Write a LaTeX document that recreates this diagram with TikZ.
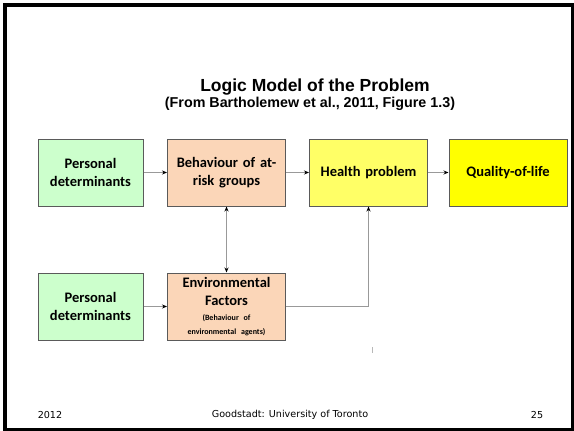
\documentclass[tikz,border=0pt]{standalone}
\usepackage{fontspec}
\setmainfont{Liberation Sans}
\newfontfamily\boxfont{Carlito}
\newfontfamily\footfont{DejaVu Sans}
\usetikzlibrary{arrows.meta}
\definecolor{pgreen}{HTML}{CCFFCC}
\definecolor{ppeach}{HTML}{FBD6B8}
\definecolor{plyellow}{HTML}{FFFF66}
\definecolor{pyellow}{HTML}{FFFF00}
\definecolor{pborder}{HTML}{5A5A5A}
\definecolor{pline}{HTML}{999999}
\newcommand{\subtxt}{\fontsize{8}{9}\selectfont}
\tikzset{
  box/.style={draw=pborder, line width=1pt, minimum height=67pt, align=center,
    font=\boxfont\bfseries\fontsize{14.5}{18.5}\selectfont, inner sep=2pt},
  narrowbox/.style={box, minimum width=105pt, text width=100pt},
  widebox/.style={box, minimum width=117pt, text width=114pt},
  conn/.style={draw=pline, line width=1.5pt, -{Stealth[length=5pt,width=4pt,black]}},
  biconn/.style={draw=pline, line width=1.5pt, {Stealth[length=5pt,width=4pt,black]}-{Stealth[length=5pt,width=4pt,black]}},
  foot/.style={font=\footfont\fontsize{9.6}{11}\selectfont}
}
\begin{document}
\begin{tikzpicture}[x=1pt,y=-1pt]
\useasboundingbox (0,0) rectangle (574,431);
\fill[white] (0,0) rectangle (574,431);
\draw[line width=3.5pt] (5,5) rectangle (572.5,429.5);

\node[font=\bfseries\fontsize{17.5}{20}\selectfont] (title) at (315,87) {Logic Model of the Problem};
\node[font=\bfseries\fontsize{14.3}{16}\selectfont] (subtitle) at (310,104) {(From Bartholemew et al., 2011, Figure 1.3)};

\node[narrowbox, fill=pgreen] (pd1) at (90.5,172.5) {Personal\\determinants};
\node[widebox, fill=ppeach] (beh) at (226.5,172.5) {Behaviour of at-\\risk groups};
\node[widebox, fill=plyellow] (hp) at (368.5,172.5) {Health problem};
\node[widebox, fill=pyellow] (qol) at (508,172.5) {Quality-of-life};

\node[narrowbox, fill=pgreen] (pd2) at (90.5,306.5) {Personal\\determinants};
\node[widebox, fill=ppeach] (env) at (226.5,306.5) {Environmental\\Factors\\[-4pt]{\subtxt(Behaviour of}\\[-4pt]{\subtxt environmental agents)}};

\draw[conn] (pd1) -- (beh);
\draw[conn] (beh) -- (hp);
\draw[conn] (hp) -- (qol);
\draw[biconn] (beh) -- (env);
\draw[conn] (pd2) -- (env);
\draw[conn] (env.east) -| (hp.south);
\draw[pline!70, line width=0.8pt] (372,347) -- (372,353);

\node[foot] (year) at (50,415) {2012};
\node[foot] (credit) at (290,415) {Goodstadt: University of Toronto};
\node[foot] (page) at (537,415) {25};
\end{tikzpicture}
\end{document}
